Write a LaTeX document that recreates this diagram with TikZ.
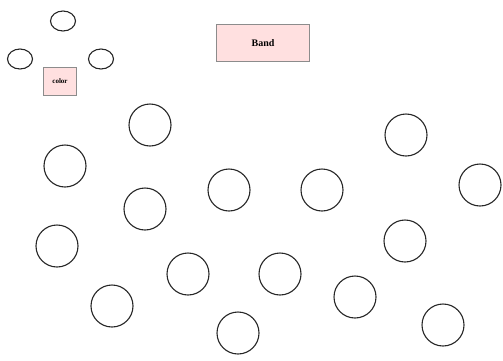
\documentclass[tikz,border=0pt]{standalone}
\usepackage{fontspec}
\setmainfont{Liberation Serif}
\usetikzlibrary{shapes.geometric}
\begin{document}
\begin{tikzpicture}[x=1pt,y=-1pt,
  circ/.style={circle,draw=black!85,line width=1.1pt,minimum size=42pt,inner sep=0pt},
  ell/.style={ellipse,draw=black!85,line width=1.1pt,minimum width=25pt,minimum height=20pt,inner sep=0pt},
  pbox/.style={rectangle,draw=black!45,fill=red!12,line width=0.8pt,inner sep=0pt,font=\bfseries}]
\useasboundingbox (0,0) rectangle (503,360);
\node[ell] (e1) at (63,21) {};
\node[ell] (e2) at (20,59) {};
\node[ell] (e3) at (101,59) {};
\node[pbox,minimum width=33pt,minimum height=28pt,font=\bfseries\fontsize{7}{8}\selectfont] (color) at (60,81) {color};
\node[pbox,minimum width=93pt,minimum height=37pt,font=\bfseries\fontsize{10}{11}\selectfont] (band) at (263,43) {Band};
\node[circ] (c1) at (150,125) {};
\node[circ] (c2) at (65,166) {};
\node[circ] (c3) at (406,135) {};
\node[circ] (c4) at (480,185) {};
\node[circ] (c5) at (229,190) {};
\node[circ] (c6) at (322,190) {};
\node[circ] (c7) at (145,209) {};
\node[circ] (c8) at (57,246) {};
\node[circ] (c9) at (405,241) {};
\node[circ] (c10) at (188,274) {};
\node[circ] (c11) at (280,274) {};
\node[circ] (c12) at (112,306) {};
\node[circ] (c13) at (355,297) {};
\node[circ] (c14) at (238,333) {};
\node[circ] (c15) at (443,325) {};
\end{tikzpicture}
\end{document}
